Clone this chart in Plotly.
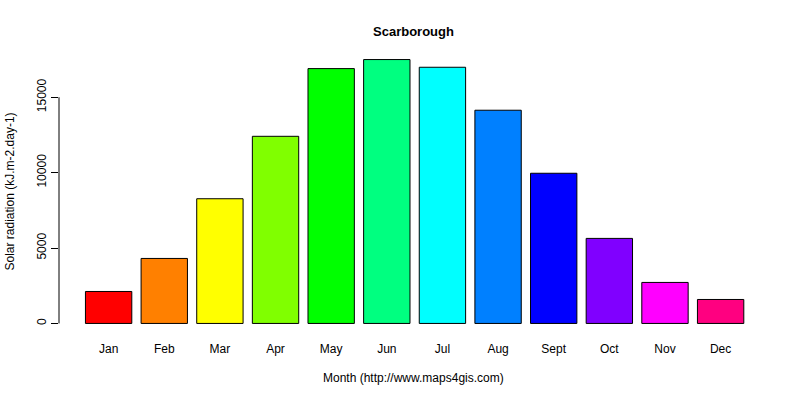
import plotly.graph_objects as go

months = ["Jan", "Feb", "Mar", "Apr", "May", "Jun",
          "Jul", "Aug", "Sept", "Oct", "Nov", "Dec"]
radiation = [2120, 4310, 8270, 12410, 16900, 17500,
             16990, 14140, 9960, 5640, 2720, 1590]
colors = ["#FF0000", "#FF8000", "#FFFF00", "#80FF00", "#00FF00", "#00FF80",
          "#00FFFF", "#0080FF", "#0000FF", "#8000FF", "#FF00FF", "#FF0080"]
y_ticks = [0, 5000, 10000, 15000]

font = "Liberation Sans, Arial, sans-serif"

fig = go.Figure(go.Bar(x=months, y=radiation,
                       marker=dict(color=colors, line=dict(color="black", width=1))))

fig.update_layout(
    width=800, height=400,
    margin=dict(l=59, r=46, t=49, b=66),
    plot_bgcolor="white", paper_bgcolor="white",
    bargap=0.1667, showlegend=False,
    font=dict(family=font, size=12, color="black"),
)
fig.update_xaxes(range=[-0.892, 11.6], showline=False, ticks="",
                 showgrid=False, zeroline=False, ticklabelstandoff=6)
fig.update_yaxes(range=[-700, 18200], tickvals=y_ticks,
                 ticktext=[str(v) for v in y_ticks], ticks="outside",
                 ticklen=7, tickcolor="black", showline=False,
                 showgrid=False, zeroline=False, tickangle=-90)

# R-style y axis line, only spanning the tick range
fig.add_shape(type="line", xref="paper", yref="y", x0=0, x1=0,
              y0=y_ticks[0], y1=y_ticks[-1], line=dict(color="black", width=1))

fig.add_annotation(text="<b>Scarborough</b>", xref="paper", yref="paper",
                   x=0.51, y=1, yshift=18, xanchor="center", yanchor="middle",
                   showarrow=False, font=dict(size=13))
fig.add_annotation(text="Month (http://www.maps4gis.com)", xref="paper", yref="paper",
                   x=0.51, y=0, yshift=-44, xanchor="center", yanchor="middle",
                   showarrow=False)
fig.add_annotation(text="Solar radiation (kJ.m-2.day-1)", xref="paper", yref="paper",
                   x=0, y=0.5, xshift=-50, yshift=0, xanchor="center",
                   yanchor="middle", textangle=-90, showarrow=False)

fig.write_html("out.html", config={"displayModeBar": False},
               post_script="document.body.style.margin='0';")
